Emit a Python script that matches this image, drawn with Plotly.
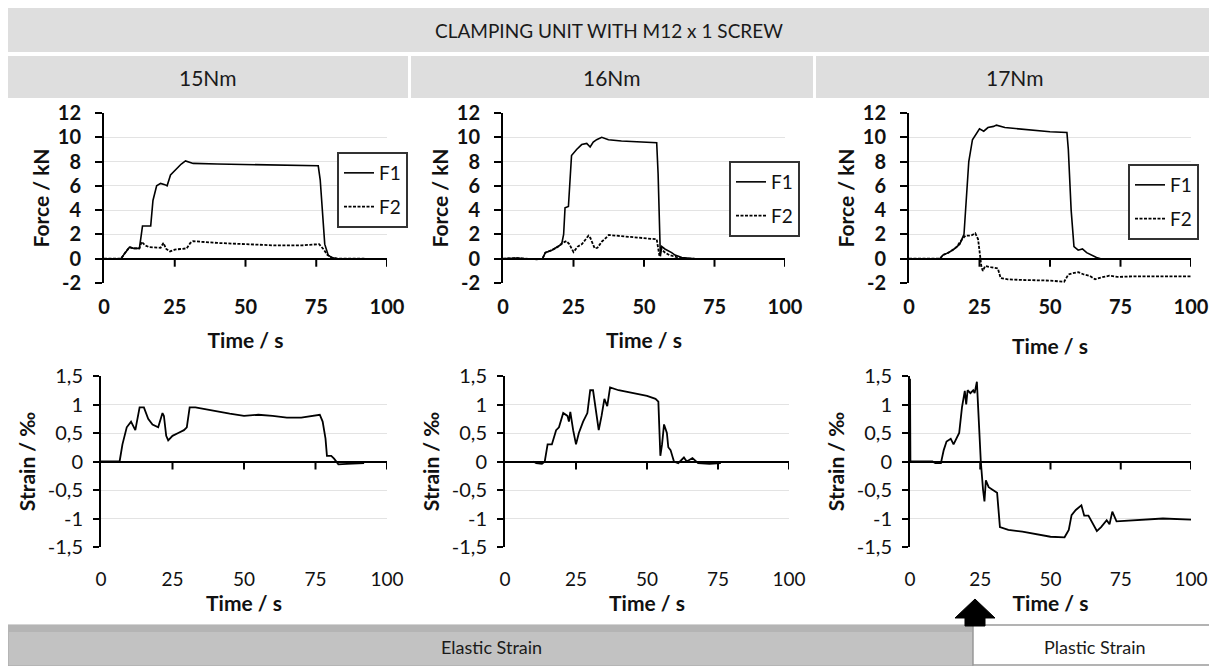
import plotly.graph_objects as go

# ---------------- data ----------------
torques = ["15Nm", "16Nm", "17Nm"]
time_ticks = [0, 25, 50, 75, 100]
force_ticks = [-2, 0, 2, 4, 6, 8, 10, 12]
force_ticklabels = ["-2", "0", "2", "4", "6", "8", "10", "12"]
strain_ticks = [-1.5, -1, -0.5, 0, 0.5, 1, 1.5]
strain_ticklabels = ["-1,5", "-1", "-0,5", "0", "0,5", "1", "1,5"]

# 15 Nm
t_f1_15 = [0, 6, 7.5, 9, 10.5, 12.5, 13.2, 13.6, 16.5, 17.3, 18.6, 20, 21.5, 22.3, 23.5, 25.5, 27.3, 28.8,
           31.5, 40, 50, 60, 70, 75.7, 76.4, 77.2, 78, 79.2, 80.4, 82.5, 92]
f1_15 = [0, 0, 0.5, 0.95, 0.85, 0.85, 2.0, 2.7, 2.7, 4.8, 6.0, 6.2, 6.1, 6.0, 6.9, 7.4, 7.8, 8.05,
         7.85, 7.8, 7.75, 7.7, 7.7, 7.65, 6.5, 4.0, 1.2, 0.3, 0.1, 0, 0]
t_f2_15 = [0, 6, 7.5, 9, 10.5, 12.5, 13.3, 14.5, 16, 18.6, 20, 21, 22, 23.3, 25, 27, 29.2, 30.5, 31.5, 34,
           40, 50, 60, 70, 76, 77.5, 79, 80.4, 82.5, 92]
f2_15 = [0, 0, 0.5, 0.95, 0.85, 0.85, 1.4, 1.1, 0.95, 0.9, 0.9, 1.3, 0.8, 0.6, 0.75, 0.8, 0.85, 1.3, 1.45, 1.4,
         1.3, 1.2, 1.1, 1.1, 1.2, 0.8, 0.3, 0.1, 0, 0]
t_s_15 = [0, 6.5, 7.5, 9, 10.5, 11.5, 12, 13.5, 15, 16.5, 18, 20, 21.5, 22, 22.8, 23.5, 25, 27, 29, 30, 31, 33,
          36, 40, 45, 50, 55, 60, 65, 70, 74, 76.5, 77.5, 78.5, 79, 80.5, 81.5, 83, 86, 92]
s_15 = [0, 0, 0.3, 0.6, 0.7, 0.6, 0.55, 0.95, 0.95, 0.75, 0.65, 0.6, 0.85, 0.8, 0.45, 0.37, 0.45, 0.5, 0.55, 0.6,
        0.95, 0.95, 0.92, 0.88, 0.84, 0.8, 0.82, 0.8, 0.77, 0.77, 0.8, 0.82, 0.7, 0.4, 0.1, 0.1, 0.05, -0.05,
        -0.04, -0.03]

# 16 Nm
t_f1_16 = [0, 5, 8, 12, 14, 15, 17.3, 19.6, 20.8, 21.5, 22, 23.2, 23.8, 24.3, 26.1, 27.9, 29.7, 30.3, 30.9, 32,
           33.2, 35, 37.4, 42, 48, 54.5, 55.0, 55.4, 55.8, 56.3, 57.4, 59.8, 61, 63.4, 68]
f1_16 = [0, 0.05, 0, -0.05, 0, 0.5, 0.7, 1.0, 1.2, 2.0, 4.2, 4.3, 7.0, 8.5, 9.0, 9.4, 9.5, 9.3, 9.2, 9.6,
         9.8, 10.0, 9.8, 9.7, 9.6, 9.55, 7.0, 2.0, 0.2, 1.0, 0.8, 0.5, 0.3, 0.1, 0]
t_f2_16 = [0, 5, 8, 12, 14, 15, 17.3, 19.6, 21, 22.5, 23.5, 25, 26.5, 28, 29, 30.3, 31, 32.5, 33.5, 35, 36,
           37.5, 40, 45, 50, 54.5, 55.5, 56, 57.5, 59, 62, 65, 68]
f2_16 = [0, 0.05, 0, -0.05, 0, 0.5, 0.7, 1.0, 1.3, 1.45, 1.2, 0.55, 1.0, 1.2, 1.5, 1.9, 1.7, 0.85, 0.9, 1.4, 1.6,
         1.95, 1.9, 1.8, 1.7, 1.6, 0.2, 0.8, 0.5, 0.3, 0.1, 0, 0]
t_s_16 = [10, 11, 13, 14, 15, 16.5, 18, 19, 20.5, 22, 22.5, 23, 24, 25, 26, 27.5, 29, 30, 31, 32, 33, 34, 35, 36,
          37, 40, 45, 50, 53, 54, 54.7, 55.3, 56, 57, 57.5, 58.3, 59.5, 61, 63, 64, 66, 68, 72, 76]
s_16 = [0, -0.03, -0.04, 0, 0.3, 0.3, 0.55, 0.6, 0.85, 0.8, 0.7, 0.87, 0.55, 0.3, 0.5, 0.7, 0.85, 1.25, 1.25,
        0.9, 0.55, 0.8, 1.1, 0.97, 1.3, 1.25, 1.2, 1.15, 1.1, 1.05, 0.1, 0.3, 0.65, 0.5, 0.25, 0.2, 0.0, -0.03,
        0.07, 0, 0.06, -0.03, -0.04, -0.03]

# 17 Nm
t_f1_17 = [0, 11, 12, 14, 16, 18, 19.5, 20.5, 21.2, 22.5, 24, 25, 26.5, 28, 30, 31, 34, 38, 45, 50, 56, 56.5,
           57.5, 58.5, 60, 61.5, 63, 64.5, 66.5, 68]
f1_17 = [0, 0, 0.3, 0.5, 0.8, 1.2, 2.0, 6.0, 8.0, 9.8, 10.4, 10.7, 10.5, 10.8, 10.9, 11.0, 10.8, 10.7, 10.55,
         10.45, 10.4, 9.0, 4.0, 1.0, 0.7, 0.8, 0.5, 0.3, 0.1, 0]
t_f2_17 = [0, 11, 12, 14, 16, 17, 18.5, 20, 22, 23.5, 24.5, 25.2, 25.7, 26.2, 27, 29, 31.5, 32.5, 35, 40, 50,
           55, 56.5, 58, 60, 62, 64, 66, 68, 71, 74, 80, 90, 100]
f2_17 = [0, 0, 0.3, 0.5, 0.8, 1.0, 1.5, 1.9, 1.9, 2.1, 1.6, 0, -0.7, -1.0, -0.6, -0.7, -0.8, -1.6, -1.7, -1.75,
         -1.8, -1.9, -1.3, -1.2, -1.1, -1.3, -1.4, -1.7, -1.55, -1.4, -1.5, -1.45, -1.45, -1.45]
t_s_17 = [0, 0.1, 0.15, 8, 9, 11, 12, 13, 14.5, 15.5, 17, 17.5, 18.5, 19.5, 20, 20.5, 21.5, 22.5, 23, 23.8, 24,
          25.2, 26, 26.5, 27, 28, 29.5, 31, 32, 35, 40, 45, 50, 55, 56.5, 57.5, 59, 61, 62, 63.5, 65, 66.5, 68,
          70, 71, 72, 73.5, 80, 90, 100]
s_17 = [1.45, 1.1, 0, 0, -0.03, -0.03, 0.2, 0.35, 0.4, 0.3, 0.45, 0.5, 0.95, 1.24, 1.0, 1.25, 1.2, 1.25, 1.2,
        1.4, 1.2, 0, -0.5, -0.7, -0.33, -0.45, -0.5, -0.55, -1.15, -1.2, -1.23, -1.28, -1.32, -1.33, -1.2, -0.94,
        -0.85, -0.77, -0.95, -0.95, -1.1, -1.22, -1.15, -1.03, -1.1, -0.88, -1.05, -1.03, -1.0, -1.02]

force_t1 = [t_f1_15, t_f1_16, t_f1_17]
force_v1 = [f1_15, f1_16, f1_17]
force_t2 = [t_f2_15, t_f2_16, t_f2_17]
force_v2 = [f2_15, f2_16, f2_17]
strain_t = [t_s_15, t_s_16, t_s_17]
strain_v = [s_15, s_16, s_17]

# ---------------- layout helpers ----------------
# The page body has an 8px margin, so the figure is drawn 8px in from the window edge.
OFF = 8
W, H = 1217 - OFF, 666 - OFF
FONT = "Lato"
INK = "#111111"


def px(x):
    """window pixel x -> paper fraction"""
    return (x - OFF) / W


def py(y):
    """window pixel y -> paper fraction"""
    return 1 - (y - OFF) / H


top_cols = [(104, 387), (503, 785), (909, 1191)]
bot_cols = [(101, 387), (505, 789), (910, 1191)]
top_rows = (113, 283)
bot_rows = (376, 547)
legend_pos = [(337, 152), (729, 161), (1128, 164)]
legend_names = ["legend", "legend2", "legend3"]

fig = go.Figure()
layout = dict(width=W, height=H, margin=dict(l=0, r=0, t=0, b=0, pad=0), autosize=False,
              paper_bgcolor="white", plot_bgcolor="white", showlegend=True,
              font=dict(family=FONT, color=INK))
shapes = []
annotations = []


def axname(k, letter):
    return letter if k == 1 else f"{letter}{k}"


for i in range(3):
    # ---- force subplot ----
    k = i + 1
    xa, ya = axname(k, "x"), axname(k, "y")
    fig.add_trace(go.Scatter(x=force_t1[i], y=force_v1[i], mode="lines", name="F1",
                             line=dict(color="black", width=1.6), xaxis=xa, yaxis=ya,
                             legend=legend_names[i], legendgroup=f"f1_{i}"))
    fig.add_trace(go.Scatter(x=force_t2[i], y=force_v2[i], mode="lines", name="F2",
                             line=dict(color="black", width=1.8, dash="3px,1.5px"), xaxis=xa, yaxis=ya,
                             legend=legend_names[i], legendgroup=f"f2_{i}"))
    layout[f"xaxis{'' if k == 1 else k}"] = dict(
        domain=[px(top_cols[i][0]), px(top_cols[i][1])], anchor=ya, range=[0, 100], automargin=False,
        tickvals=time_ticks, ticks="", showline=False, showgrid=False, zeroline=False,
        tickfont=dict(family=FONT, size=20, color=INK, weight="bold"), ticklabelstandoff=10,
        title=dict(text="Time / s", font=dict(family=FONT, size=21, color=INK, weight="bold"),
                   standoff=16 if i < 2 else 22),
        fixedrange=True)
    layout[f"yaxis{'' if k == 1 else k}"] = dict(
        domain=[py(top_rows[1]), py(top_rows[0])], anchor=xa, range=[-2, 12], automargin=False,
        tickvals=force_ticks, ticktext=force_ticklabels, ticks="outside", ticklen=7, tickwidth=2,
        tickcolor="black", showline=True, linecolor="black", linewidth=2,
        showgrid=True, gridcolor="#e3e3e3", gridwidth=1,
        zeroline=True, zerolinecolor="black", zerolinewidth=2,
        tickfont=dict(family=FONT, size=20, color=INK, weight="bold"), ticklabelstandoff=10,
        title=dict(text="Force / kN", font=dict(family=FONT, size=21, color=INK, weight="bold"), standoff=2),
        fixedrange=True)
    lx, ly = legend_pos[i]
    layout[legend_names[i]] = dict(
        x=px(lx), y=py(ly), xanchor="left", yanchor="top", bgcolor="white",
        bordercolor="#333333", borderwidth=2, font=dict(family=FONT, size=19, color=INK),
        itemwidth=30, tracegroupgap=6, traceorder="grouped")

    # ---- strain subplot ----
    k2 = i + 4
    xa2, ya2 = axname(k2, "x"), axname(k2, "y")
    fig.add_trace(go.Scatter(x=strain_t[i], y=strain_v[i], mode="lines", name="Strain",
                             line=dict(color="black", width=1.8), xaxis=xa2, yaxis=ya2,
                             showlegend=False))
    layout[f"xaxis{k2}"] = dict(
        domain=[px(bot_cols[i][0]), px(bot_cols[i][1])], anchor=ya2, range=[0, 100], automargin=False,
        tickvals=time_ticks, ticks="", showline=False, showgrid=False, zeroline=False,
        tickfont=dict(family=FONT, size=19, color=INK), ticklabelstandoff=19,
        title=dict(text="Time / s", font=dict(family=FONT, size=21, color=INK, weight="bold"),
                   standoff=2 if i < 2 else 7),
        fixedrange=True)
    layout[f"yaxis{k2}"] = dict(
        domain=[py(bot_rows[1]), py(bot_rows[0])], anchor=xa2, range=[-1.5, 1.5], automargin=False,
        tickvals=strain_ticks, ticktext=strain_ticklabels, ticks="outside", ticklen=6, tickwidth=2,
        tickcolor="black", showline=True, linecolor="black", linewidth=2,
        showgrid=True, gridcolor="#e3e3e3", gridwidth=1,
        zeroline=True, zerolinecolor="black", zerolinewidth=2,
        tickfont=dict(family=FONT, size=20, color=INK), ticklabelstandoff=6,
        title=dict(text="Strain / ‰", font=dict(family=FONT, size=21, color=INK, weight="bold"), standoff=6),
        fixedrange=True)

# x-axis tick marks drawn on the zero line (Excel style: axis crosses at 0)
for k in range(1, 7):
    for t in time_ticks[1:]:
        shapes.append(dict(type="line", xref=axname(k, "x"), yref=axname(k, "y"),
                           x0=t, x1=t, ysizemode="pixel", yanchor=0, y0=-8, y1=0,
                           line=dict(color="black", width=2)))

# header bars
HDR = "#dedede"
shapes.append(dict(type="rect", xref="paper", yref="paper", x0=px(8), x1=px(1217), y0=py(52), y1=py(8),
                   fillcolor=HDR, line=dict(width=0), layer="below"))
for (a, b) in [(8, 408), (411, 813), (816, 1217)]:
    shapes.append(dict(type="rect", xref="paper", yref="paper", x0=px(a), x1=px(b), y0=py(98), y1=py(56),
                       fillcolor=HDR, line=dict(width=0), layer="below"))
annotations.append(dict(text="CLAMPING UNIT WITH M12 x 1 SCREW", xref="paper", yref="paper",
                        x=px(609), y=py(30), xanchor="center", yanchor="middle", showarrow=False,
                        font=dict(family=FONT, size=19, color="#1a1a1a")))
for name, cx in zip(torques, [208, 612, 1015]):
    annotations.append(dict(text=name, xref="paper", yref="paper", x=px(cx), y=py(77),
                            xanchor="center", yanchor="middle", showarrow=False,
                            font=dict(family=FONT, size=21, color="#1a1a1a")))

# bottom bars
shapes.append(dict(type="rect", xref="paper", yref="paper", x0=px(8), x1=px(973), y0=py(666), y1=py(625),
                   fillcolor="#c2c2c2", line=dict(color="#a8a8a8", width=1), layer="below"))
shapes.append(dict(type="rect", xref="paper", yref="paper", x0=px(8), x1=px(973), y0=py(632), y1=py(625),
                   fillcolor="#b4b4b4", line=dict(width=0), layer="below"))
shapes.append(dict(type="rect", xref="paper", yref="paper", x0=px(973), x1=px(1216), y0=py(665), y1=py(625),
                   fillcolor="white", line=dict(color="#9a9a9a", width=1.5), layer="below"))
annotations.append(dict(text="Elastic Strain", xref="paper", yref="paper", x=px(491), y=py(647),
                        xanchor="center", yanchor="middle", showarrow=False,
                        font=dict(family=FONT, size=18, color="#1a1a1a")))
annotations.append(dict(text="Plastic Strain", xref="paper", yref="paper", x=px(1095), y=py(647),
                        xanchor="center", yanchor="middle", showarrow=False,
                        font=dict(family=FONT, size=18, color="#1a1a1a")))

# arrow marking the elastic/plastic transition
pts = [(955, 618), (975, 599), (995, 618), (985, 618), (985, 626), (965, 626), (965, 618)]
path = "M " + " L ".join(f"{px(x):.5f},{py(y):.5f}" for x, y in pts) + " Z"
shapes.append(dict(type="path", xref="paper", yref="paper", path=path, fillcolor="black",
                   line=dict(color="black", width=1)))

layout["shapes"] = shapes
layout["annotations"] = annotations
fig.update_layout(**layout)

fig.write_html("out.html")
